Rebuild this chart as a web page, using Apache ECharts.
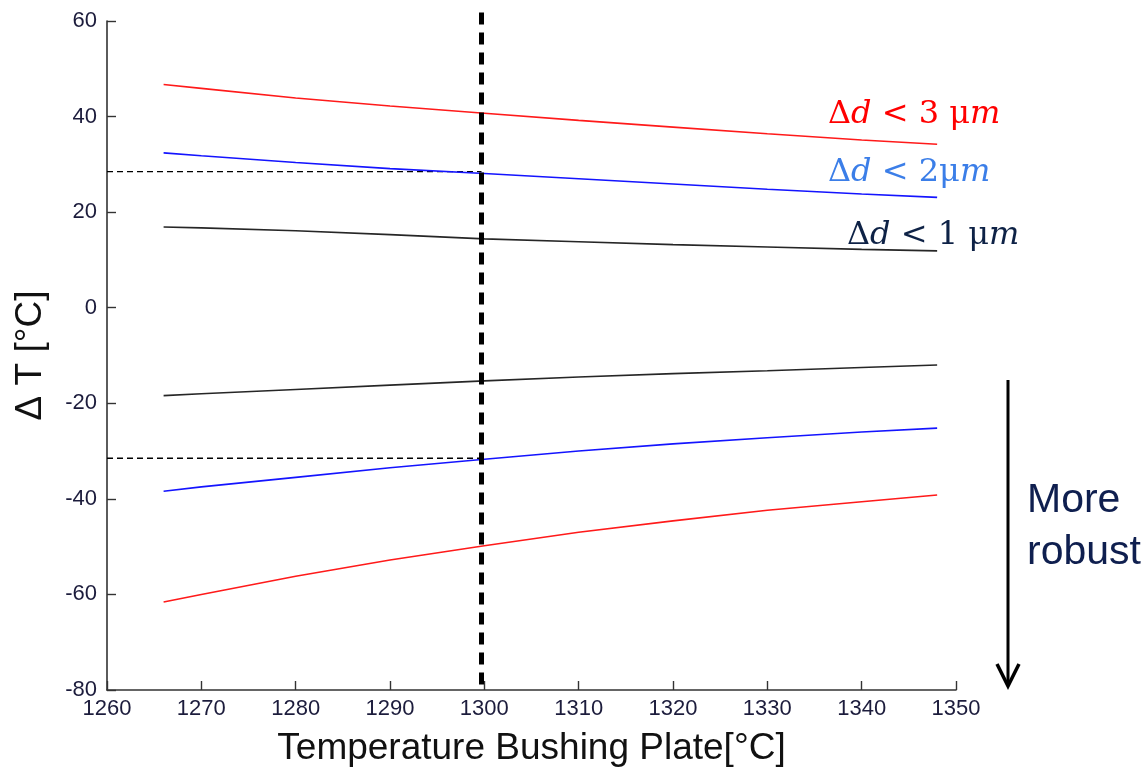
<!DOCTYPE html>
<html>
<head>
<meta charset="utf-8">
<script src="https://cdn.jsdelivr.net/npm/echarts@6/dist/echarts.min.js"></script>
<style>
  html, body { margin: 0; padding: 0; background: #fff; }
  #chart { width: 1146px; height: 772px; }
</style>
</head>
<body>
<div id="chart"></div>
<script>
// bushing plate temperature (x) and the allowed delta T bands
var temps = [1266, 1270, 1280, 1290, 1300, 1310, 1320, 1330, 1340, 1348];
var upper3um = [46.7, 45.9, 43.9, 42.2, 40.7, 39.2, 37.8, 36.4, 35.1, 34.2];
var upper2um = [32.4, 31.8, 30.4, 29.1, 28.1, 27.0, 25.9, 24.8, 23.8, 23.1];
var upper1um = [16.9, 16.7, 16.1, 15.3, 14.4, 13.8, 13.2, 12.7, 12.2, 11.9];
var lower1um = [-18.4, -18.0, -17.1, -16.2, -15.3, -14.5, -13.8, -13.2, -12.5, -12.0];
var lower2um = [-38.4, -37.5, -35.5, -33.5, -31.7, -30.0, -28.5, -27.2, -26.0, -25.2];
var lower3um = [-61.6, -60.0, -56.2, -52.8, -49.8, -47.0, -44.6, -42.4, -40.6, -39.2];

// operating point and the band it reads off
var operatingTemp = 1299.7;
var operatingTop = 61.8;
var refLevels = [28.5, -31.5];
var xTicks = { min: 1260, max: 1350, step: 10 };
var yTicks = { min: -80, max: 60, step: 20 };

var RED = '#ff1a1a', BLUE = '#1414ff', BLACK = '#262626';

function pairs(xs, ys) {
  return xs.map(function (x, i) { return [x, ys[i]]; });
}

function curve(name, ys, color) {
  return {
    name: name,
    type: 'line',
    data: pairs(temps, ys),
    showSymbol: false,
    smooth: false,
    lineStyle: { color: color, width: 1.6 },
    z: 3
  };
}

function mathLabel(x, y, text, color) {
  var base = { fontFamily: 'DejaVu Serif', fontSize: 32, fill: color };
  return {
    type: 'text',
    x: x,
    y: y,
    z: 10,
    style: {
      text: text,
      align: 'left',
      verticalAlign: 'middle',
      fill: color,
      font: '32px "DejaVu Serif"',
      rich: {
        n: base,
        i: Object.assign({}, base, { fontStyle: 'italic' })
      }
    }
  };
}

var dom = document.getElementById('chart');
var myChart = echarts.init(dom, null, { renderer: 'canvas' });

var axisFont = 'Liberation Sans';
var series = [
  curve('upper 3um', upper3um, RED),
  curve('upper 2um', upper2um, BLUE),
  curve('upper 1um', upper1um, BLACK),
  curve('lower 1um', lower1um, BLACK),
  curve('lower 2um', lower2um, BLUE),
  curve('lower 3um', lower3um, RED)
];

refLevels.forEach(function (lvl, i) {
  series.push({
    name: 'ref ' + i,
    type: 'line',
    data: [[xTicks.min, lvl], [operatingTemp, lvl]],
    showSymbol: false,
    lineStyle: { color: '#000', width: 1.3, type: [6, 4] },
    z: 2
  });
});

// drawn top-down so the dash pattern starts at the upper end
series.push({
  name: 'operating point',
  type: 'line',
  data: [[operatingTemp, operatingTop], [operatingTemp, yTicks.min]],
  showSymbol: false,
  clip: false,
  lineStyle: { color: '#000', width: 5, type: [12, 8] },
  z: 5
});

var option = {
  animation: false,
  backgroundColor: '#fff',
  grid: { left: 107, right: 190, top: 21, bottom: 82 },
  xAxis: {
    type: 'value',
    min: xTicks.min,
    max: xTicks.max,
    interval: xTicks.step,
    name: 'Temperature Bushing Plate[°C]',
    nameLocation: 'middle',
    nameGap: 40,
    nameTextStyle: { fontFamily: axisFont, fontSize: 37, color: '#111' },
    axisLine: { onZero: false, lineStyle: { color: '#333', width: 1.6 } },
    axisTick: { inside: true, length: 9, lineStyle: { color: '#333', width: 1.4 } },
    axisLabel: {
      fontFamily: axisFont, fontSize: 22, color: '#1c1c3c', margin: 8,
      formatter: function (v) { return String(v); }
    },
    splitLine: { show: false }
  },
  yAxis: {
    type: 'value',
    min: yTicks.min,
    max: yTicks.max,
    interval: yTicks.step,
    name: 'Δ T [°C]',
    nameLocation: 'middle',
    nameGap: 58,
    nameTextStyle: { fontFamily: axisFont, fontSize: 37, color: '#111' },
    axisLine: { onZero: false, lineStyle: { color: '#333', width: 1.6 } },
    axisTick: { inside: true, length: 9, lineStyle: { color: '#333', width: 1.4 } },
    axisLabel: { fontFamily: axisFont, fontSize: 22, color: '#1c1c3c', margin: 10 },
    splitLine: { show: false }
  },
  series: series,
  graphic: [
    mathLabel(828, 115, '{n|Δ}{i|d}{n| < 3 μ}{i|m}', '#ff0000'),
    mathLabel(828, 173, '{n|Δ}{i|d}{n| < 2μ}{i|m}', '#3b7ee8'),
    mathLabel(847, 236, '{n|Δ}{i|d}{n| < 1 μ}{i|m}', '#0e2246'),
    {
      type: 'line',
      shape: { x1: 1008, y1: 380, x2: 1008, y2: 686 },
      style: { stroke: '#000', lineWidth: 3 }
    },
    {
      type: 'polyline',
      shape: { points: [[997, 664], [1008, 686], [1019, 664]] },
      style: { stroke: '#000', lineWidth: 3.5, fill: null }
    },
    {
      type: 'text',
      x: 1027,
      y: 501,
      style: { text: 'More', font: '41px "Liberation Sans"', fill: '#0f1f4f', align: 'left', verticalAlign: 'middle' }
    },
    {
      type: 'text',
      x: 1027,
      y: 553,
      style: { text: 'robust', font: '41px "Liberation Sans"', fill: '#0f1f4f', align: 'left', verticalAlign: 'middle' }
    }
  ]
};

myChart.setOption(option);
window.addEventListener('resize', myChart.resize);
</script>
</body>
</html>
